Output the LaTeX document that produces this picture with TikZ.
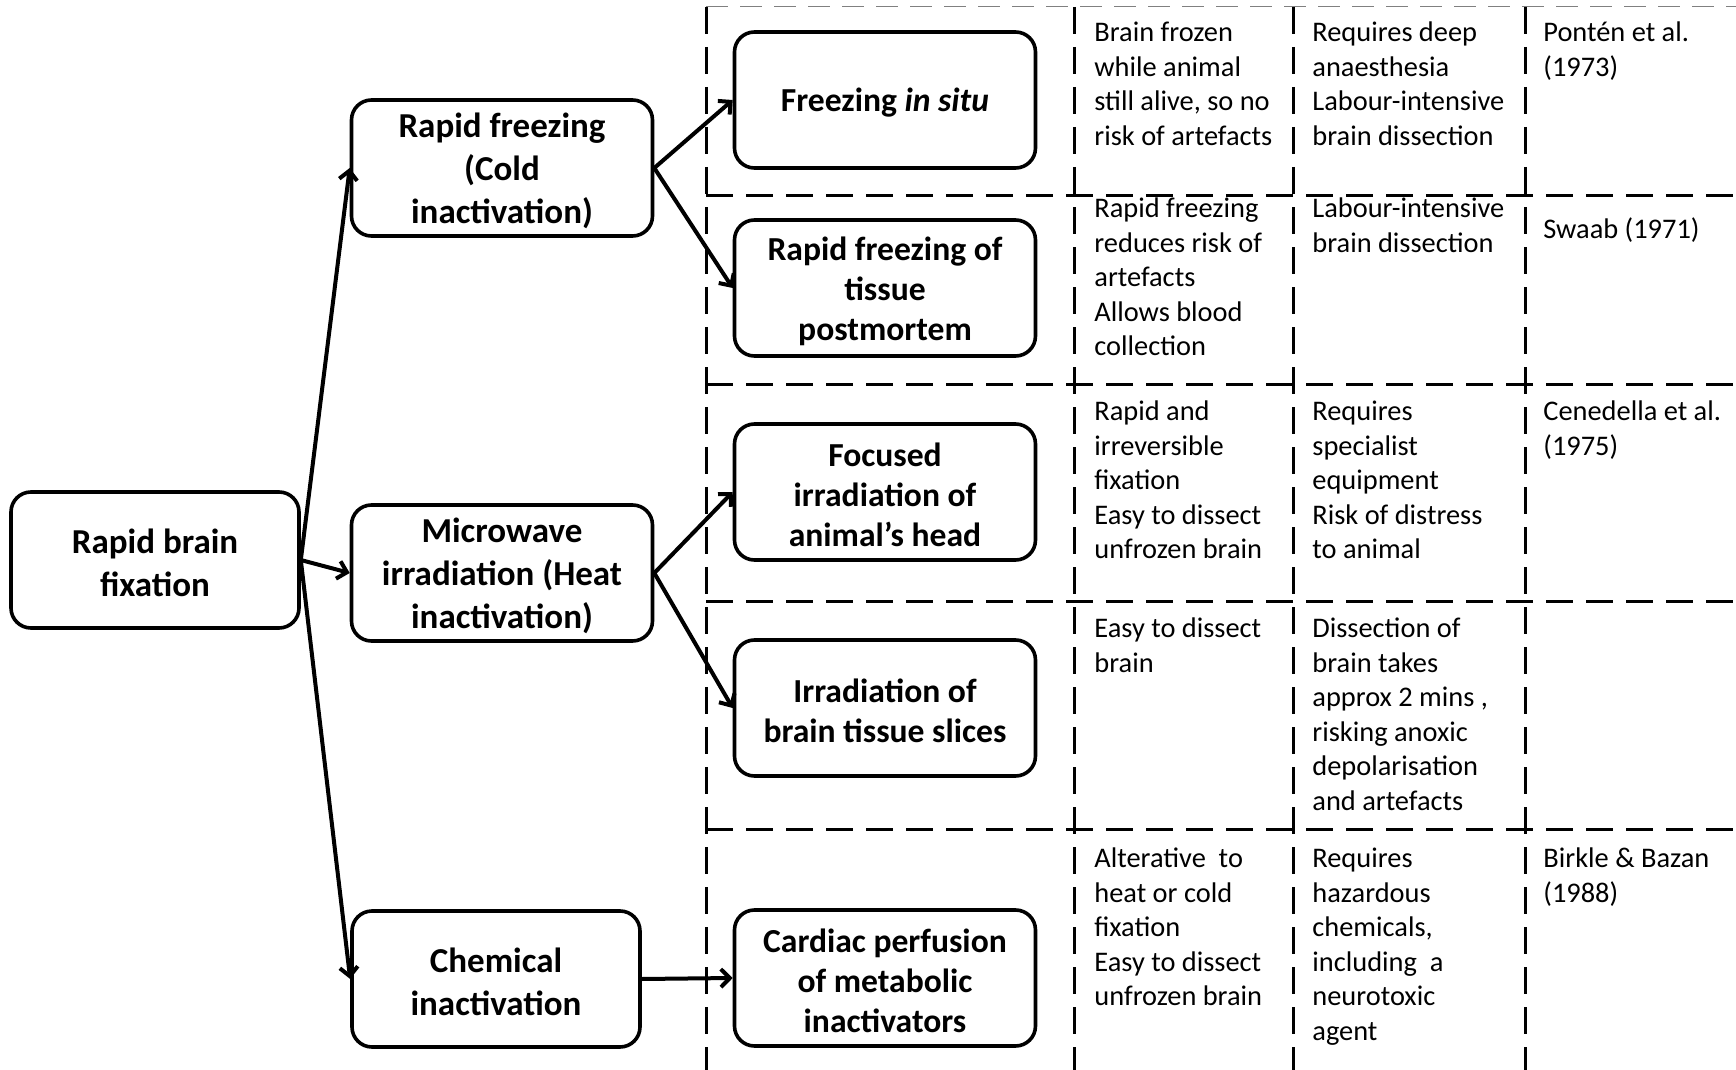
\documentclass[tikz,border=0pt]{standalone}
\usepackage{fontspec}
\setmainfont{Carlito}
\usetikzlibrary{arrows.meta}
\begin{document}
\begin{tikzpicture}[x=0.5pt,y=-0.5pt,
  boxbase/.style={draw, line width=1.8pt, rounded corners=10pt, minimum height=68pt, inner sep=2pt},
  lbox/.style={boxbase},
  rbox/.style={boxbase, minimum width=150.5pt},
  ltext/.style={align=center, inner sep=0pt, yshift=-1.5pt, font=\bfseries\fontsize{17.5}{21.6}\selectfont},
  rtext/.style={align=center, inner sep=0pt, yshift=-1.5pt, font=\bfseries\fontsize{16.8}{20}\selectfont},
  conn/.style={line width=2pt, line join=round, -{Straight Barb[length=4.5pt,width=9pt,line width=2pt]}},
  grid/.style={line width=1.5pt, dash pattern=on 13.5pt off 6.5pt},
  thingrid/.style={line width=0.5pt, gray, dash pattern=on 11pt off 6pt},
  cell/.style={anchor=north west, inner sep=0pt, align=left, font=\fontsize{14.2}{17.3}\selectfont}]
\useasboundingbox (0,0) rectangle (1736,1070);

% grid
\draw[thingrid] (706,7) -- (1736,7);
\foreach \yy in {196,384,601,829} \draw[grid] (706,\yy) -- (1736,\yy);
\foreach \xx in {706,1074,1293,1525} \draw[grid] (\xx,7) -- (\xx,1070);

% boxes
\node[lbox, minimum width=144pt] (A) at (155,560) {};
\node[lbox, minimum width=150.5pt] (B) at (502,168) {};
\node[lbox, minimum width=150.5pt] (C) at (502,573) {};
\node[lbox, minimum width=144pt] (D) at (496,979) {};
\node[rbox] (E) at (885,100) {};
\node[rbox] (F) at (885,288) {};
\node[rbox] (G) at (885,492) {};
\node[rbox] (H) at (885,708) {};
\node[rbox] (I) at (885,978) {};

\node[ltext] (At) at (A.center) {Rapid brain\\fixation};
\node[ltext] (Bt) at (B.center) {Rapid freezing\\(Cold\\inactivation)};
\node[ltext] (Ct) at (C.center) {Microwave\\irradiation (Heat\\inactivation)};
\node[ltext] (Dt) at (D.center) {Chemical\\inactivation};
\node[rtext] (Et) at (E.center) {Freezing \textit{in situ}};
\node[rtext] (Ft) at (F.center) {Rapid freezing of\\tissue\\postmortem};
\node[rtext] (Gt) at (G.center) {Focused\\irradiation of\\animal’s head};
\node[rtext] (Ht) at (H.center) {Irradiation of\\brain tissue slices};
\node[rtext] (It) at (I.center) {Cardiac perfusion\\of metabolic\\inactivators};

% connectors
\draw[conn] (A.east) -- (B.west);
\draw[conn] (A.east) -- (C.west);
\draw[conn] (A.east) -- (D.west);
\draw[conn] (B.east) -- (E.west);
\draw[conn] (B.east) -- (F.west);
\draw[conn] (C.east) -- (G.west);
\draw[conn] (C.east) -- (H.west);
\draw[conn] (D.east) -- (I.west);

% table text
\node[cell] (t11) at (1094,16.8) {\strut Brain frozen\\while animal\\still alive, so no\\risk of artefacts};
\node[cell] (t12) at (1312,16.8) {\strut Requires deep\\anaesthesia\\Labour-intensive\\brain dissection};
\node[cell] (t13) at (1543,16.8) {\strut Pontén et al.\\(1973)};

\node[cell] (t21) at (1094,192.8) {\strut Rapid freezing\\reduces risk of\\artefacts\\Allows blood\\collection};
\node[cell] (t22) at (1312,192.8) {\strut Labour-intensive\\brain dissection};
\node[cell] (t23) at (1543,213.8) {\strut Swaab (1971)};

\node[cell] (t31) at (1094,395.8) {\strut Rapid and\\irreversible\\fixation\\Easy to dissect\\unfrozen brain};
\node[cell] (t32) at (1312,395.8) {\strut Requires\\specialist\\equipment\\Risk of distress\\to animal};
\node[cell] (t33) at (1543,395.8) {\strut Cenedella et al.\\(1975)};

\node[cell] (t41) at (1094,612.8) {\strut Easy to dissect\\brain};
\node[cell] (t42) at (1312,612.8) {\strut Dissection of\\brain takes\\approx 2 mins ,\\risking anoxic\\depolarisation\\and artefacts};

\node[cell] (t51) at (1094,842.8) {\strut Alterative\ \ to\\heat or cold\\fixation\\Easy to dissect\\unfrozen brain};
\node[cell] (t52) at (1312,842.8) {\strut Requires\\hazardous\\chemicals,\\including\ \ a\\neurotoxic\\agent};
\node[cell] (t53) at (1543,842.8) {\strut Birkle \& Bazan\\(1988)};
\end{tikzpicture}
\end{document}
